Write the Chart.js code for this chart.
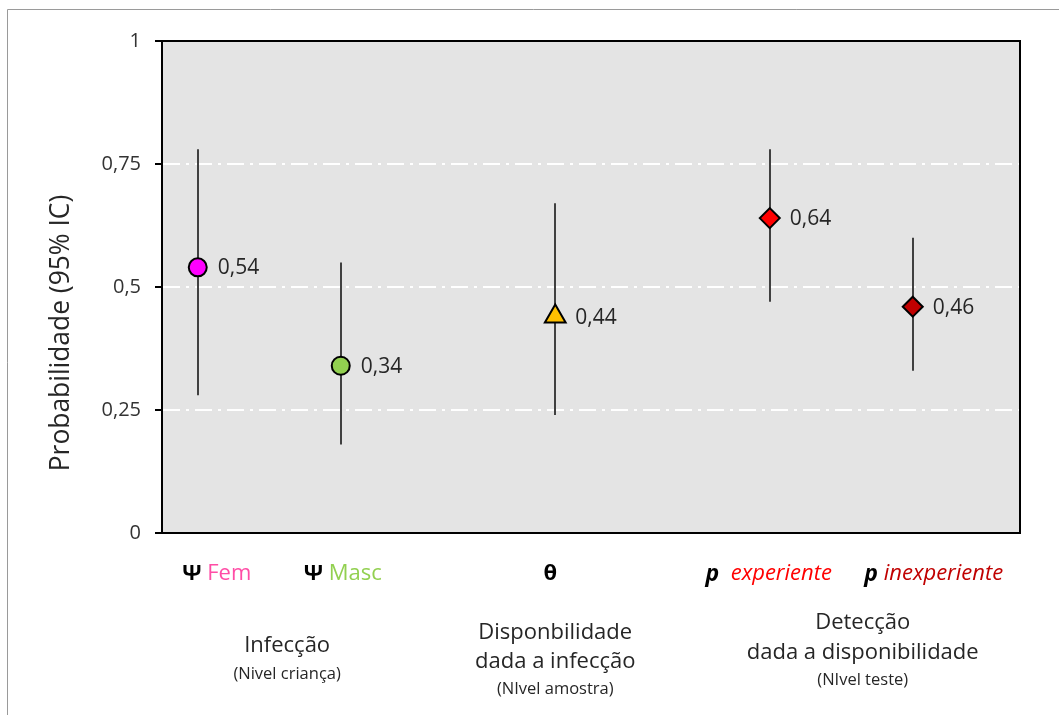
<!DOCTYPE html>
<html>
<head>
<meta charset="utf-8">
<script src="https://cdn.jsdelivr.net/npm/chart.js@4"></script>
<style>
  html, body { margin: 0; padding: 0; background: #ffffff; }
  #wrap { width: 1059px; height: 715px; position: relative; }
</style>
</head>
<body>
<div id="wrap"><canvas id="c" width="1059" height="715"></canvas></div>
<script>
// Parameter estimates with 95% confidence intervals
const categories = ['Ψ Fem', 'Ψ Masc', 'θ', 'p experiente', 'p inexperiente'];
const xPositions = [0.25, 1.25, 2.75, 4.25, 5.25];
const estimates = [0.54, 0.34, 0.44, 0.64, 0.46];
const ciLower = [0.28, 0.18, 0.24, 0.47, 0.33];
const ciUpper = [0.78, 0.55, 0.67, 0.78, 0.60];
const yTicks = [0, 0.25, 0.5, 0.75, 1];
const yTitle = 'Probabilidade (95% IC)';

// Group captions under the axis
const groupCenters = [0.875, 2.75, 4.9];
const groupLines = [
  ['Infecção'],
  ['Disponbilidade', 'dada a infecção'],
  ['Detecção', 'dada a disponibilidade']
];
const groupNotes = ['(Nivel criança)', '(NIvel amostra)', '(NIvel teste)'];

const FONT = '"Open Sans", "DejaVu Sans", sans-serif';
const TEXT = '#262626';

const markerStyle = ['circle', 'circle', 'triangle', 'rectRot', 'rectRot'];
const markerFill = ['#ff00ff', '#92d050', '#ffc000', '#ff0000', '#c00000'];
const markerSize = [9, 9, 12, 10, 10];

// Rich-text pieces for each parameter label
const labelRuns = [
  [{t: 'Ψ', f: 'bold 22px', c: '#000'}, {t: ' Fem', f: '22px', c: '#ff4da6'}],
  [{t: 'Ψ', f: 'bold 22px', c: '#000'}, {t: ' Masc', f: '22px', c: '#92d050'}],
  [{t: 'θ', f: 'bold 22px', c: '#000'}],
  [{t: 'p', f: 'italic bold 23px', c: '#000'}, {t: '  experiente', f: 'italic 22px', c: '#ff0000'}],
  [{t: 'p', f: 'italic bold 23px', c: '#000'}, {t: ' inexperiente', f: 'italic 22px', c: '#c00000'}]
];
const labelShift = [19, 2, -5, -1, 21];

const fmt = v => String(v).replace('.', ',');

const decor = {
  id: 'decor',
  beforeDraw(chart) {
    const {ctx, chartArea: a} = chart;
    ctx.save();
    // outer frame
    ctx.strokeStyle = '#9a9a9a';
    ctx.lineWidth = 1;
    ctx.beginPath();
    ctx.moveTo(7.5, 715);
    ctx.lineTo(7.5, 9.5);
    ctx.lineTo(1059, 9.5);
    ctx.stroke();
    // plot background
    ctx.fillStyle = '#e4e4e4';
    ctx.fillRect(a.left, a.top, a.right - a.left, a.bottom - a.top);
    ctx.restore();
  },
  beforeDatasetsDraw(chart) {
    const {ctx, chartArea: a, scales: {x, y}} = chart;
    ctx.save();
    // plot frame
    ctx.setLineDash([]);
    ctx.strokeStyle = '#000';
    ctx.lineWidth = 2;
    ctx.strokeRect(a.left, a.top, a.right - a.left, a.bottom - a.top);
    // confidence interval whiskers
    ctx.strokeStyle = '#404040';
    ctx.lineWidth = 2;
    xPositions.forEach((xv, i) => {
      const px = Math.round(x.getPixelForValue(xv));
      ctx.beginPath();
      ctx.moveTo(px, y.getPixelForValue(ciUpper[i]));
      ctx.lineTo(px, y.getPixelForValue(ciLower[i]));
      ctx.stroke();
    });
    // axis title
    ctx.translate(61, (a.top + a.bottom) / 2 + 46);
    ctx.rotate(-Math.PI / 2);
    ctx.font = '26.4px ' + FONT;
    ctx.fillStyle = TEXT;
    ctx.textAlign = 'center';
    ctx.textBaseline = 'middle';
    ctx.fillText(yTitle, 0, 0);
    ctx.restore();
  },
  afterDatasetsDraw(chart) {
    const {ctx, scales: {x, y}} = chart;
    ctx.save();
    // value labels
    ctx.font = '21px ' + FONT;
    ctx.fillStyle = TEXT;
    ctx.textAlign = 'left';
    ctx.textBaseline = 'middle';
    estimates.forEach((v, i) => {
      ctx.fillText(fmt(v), x.getPixelForValue(xPositions[i]) + 20, y.getPixelForValue(v) + 1);
    });
    // parameter labels
    labelRuns.forEach((runs, i) => {
      let total = 0;
      runs.forEach(r => { ctx.font = r.f + ' ' + FONT; r.w = ctx.measureText(r.t).width; total += r.w; });
      let cx = x.getPixelForValue(xPositions[i]) + labelShift[i] - total / 2;
      runs.forEach(r => {
        ctx.font = r.f + ' ' + FONT;
        ctx.fillStyle = r.c;
        ctx.fillText(r.t, cx, 574);
        cx += r.w;
      });
    });
    // group captions
    ctx.textAlign = 'center';
    ctx.fillStyle = TEXT;
    groupLines.forEach((lines, g) => {
      const cx = x.getPixelForValue(groupCenters[g]);
      const top = lines.length === 1 ? 646 : (g === 1 ? 633 : 623);
      const step = g === 1 ? 29 : 30;
      ctx.font = '22px ' + FONT;
      lines.forEach((t, k) => ctx.fillText(t, cx, top + k * step));
      ctx.font = '16.5px ' + FONT;
      const noteY = lines.length === 1 ? 674 : (g === 1 ? 689 : 680);
      ctx.fillText(groupNotes[g], cx, noteY);
    });
    ctx.restore();
  }
};

new Chart(document.getElementById('c'), {
  type: 'scatter',
  data: {
    datasets: [{
      data: xPositions.map((xv, i) => ({x: xv, y: estimates[i]})),
      pointStyle: markerStyle,
      pointBackgroundColor: markerFill,
      pointBorderColor: '#000',
      pointBorderWidth: 2,
      pointRadius: markerSize,
      pointHoverRadius: markerSize,
      showLine: false
    }]
  },
  options: {
    responsive: false,
    animation: false,
    events: [],
    layout: { padding: { top: 41, right: 39, bottom: 182, left: 0 } },
    plugins: { legend: { display: false }, tooltip: { enabled: false } },
    scales: {
      x: { type: 'linear', min: 0, max: 6, display: false },
      y: {
        min: 0, max: 1,
        afterFit(s) { s.width = 162; },
        afterBuildTicks(s) { s.ticks = yTicks.map(v => ({value: v})); },
        ticks: {
          callback: v => fmt(v),
          color: '#333',
          padding: 14,
          font: { family: FONT, size: 20 }
        },
        grid: {
          color: c => (c.tick && c.tick.value > 0 && c.tick.value < 1) ? '#ffffff' : 'rgba(0,0,0,0)',
          lineWidth: 2,
          tickColor: '#000',
          tickWidth: 2,
          tickBorderDash: [],
          tickLength: 7
        },
        border: { color: '#000', width: 2, dash: [17, 6, 3, 6] }
      }
    }
  },
  plugins: [decor]
});
</script>
</body>
</html>
